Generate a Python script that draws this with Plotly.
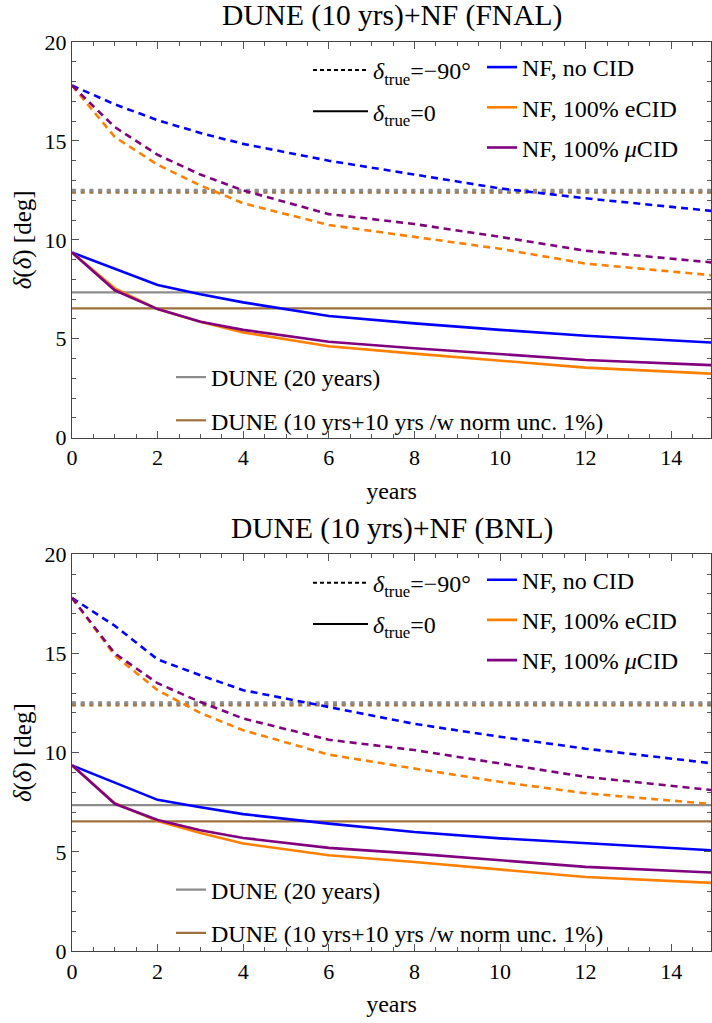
import plotly.graph_objects as go

# ---------------- data ----------------
years = [0, 1, 2, 3, 4, 6, 8, 10, 12, 15]

# FNAL panel (top)
fnal_nocid_m90 = [17.8, 16.85, 16.05, 15.4, 14.85, 14.0, 13.3, 12.6, 12.1, 11.45]
fnal_ecid_m90 = [17.8, 15.2, 13.8, 12.75, 11.85, 10.75, 10.15, 9.55, 8.8, 8.2]
fnal_mucid_m90 = [17.8, 15.7, 14.3, 13.3, 12.5, 11.3, 10.8, 10.15, 9.45, 8.85]
fnal_nocid_0 = [9.36, 8.55, 7.72, 7.25, 6.84, 6.15, 5.78, 5.45, 5.15, 4.8]
fnal_ecid_0 = [9.36, 7.55, 6.5, 5.86, 5.32, 4.62, 4.25, 3.9, 3.54, 3.23]
fnal_mucid_0 = [9.36, 7.45, 6.5, 5.86, 5.45, 4.85, 4.52, 4.23, 3.93, 3.66]

# BNL panel (bottom)
bnl_nocid_m90 = [17.8, 16.4, 14.7, 13.9, 13.15, 12.3, 11.45, 10.8, 10.2, 9.45]
bnl_ecid_m90 = [17.8, 14.9, 13.15, 12.0, 11.13, 9.9, 9.2, 8.53, 7.95, 7.4]
bnl_mucid_m90 = [17.8, 15.0, 13.5, 12.55, 11.72, 10.65, 10.13, 9.45, 8.78, 8.1]
bnl_nocid_0 = [9.36, 8.5, 7.62, 7.25, 6.9, 6.42, 6.0, 5.68, 5.42, 5.07]
bnl_ecid_0 = [9.36, 7.45, 6.55, 5.95, 5.42, 4.83, 4.49, 4.1, 3.73, 3.43]
bnl_mucid_0 = [9.36, 7.42, 6.6, 6.09, 5.7, 5.2, 4.91, 4.58, 4.24, 3.95]

# DUNE-only reference levels [delta=-90, delta=0]
dune20_levels = [12.5, 7.35]
dune_norm_levels = [12.42, 6.54]

panel_titles = ["DUNE (10 yrs)+NF (FNAL)", "DUNE (10 yrs)+NF (BNL)"]
nf_names = ["NF, no CID", "NF, 100% eCID", "NF, 100% <i>μ</i>CID"]
delta_names = ["<i>δ</i><sub>true</sub>=−90°", "<i>δ</i><sub>true</sub>=0"]
dune_names = ["DUNE (20 years)", "DUNE (10 yrs+10 yrs /w norm unc. 1%)"]

# ---------------- styles ----------------
BLUE, ORANGE, PURPLE = "#0000ff", "#ff8000", "#800080"
GRAY, BROWN = "#8c8c8c", "#a0703c"
FONT = "Liberation Serif"
nf_colors = [BLUE, ORANGE, PURPLE]
DASH = "7px,5px"
DOT = "4px,4.7px"

W, H = 712, 1023
L, R, T, B = 72, 1, 42, 72
ph = H - T - B


def py2paper(py):
    return (H - B - py) / ph


def px2paper(px):
    return (px - L) / (W - L - R)


fig = go.Figure()

panels = [
    ([fnal_nocid_m90, fnal_ecid_m90, fnal_mucid_m90],
     [fnal_nocid_0, fnal_ecid_0, fnal_mucid_0]),
    ([bnl_nocid_m90, bnl_ecid_m90, bnl_mucid_m90],
     [bnl_nocid_0, bnl_ecid_0, bnl_mucid_0]),
]

for p, (m90s, zeros) in enumerate(panels):
    xa = "x" if p == 0 else "x2"
    ya = "y" if p == 0 else "y2"
    lgA = "legend" if p == 0 else "legend4"
    lgB = "legend2" if p == 0 else "legend5"
    lgC = "legend3" if p == 0 else "legend6"
    xr = [years[0], years[-1]]
    # DUNE reference levels (delta=-90: dotted gray over dotted brown)
    fig.add_trace(go.Scatter(x=xr, y=[dune_norm_levels[0]] * 2, mode="lines",
                             line=dict(color=BROWN, width=3.5, dash=DOT),
                             xaxis=xa, yaxis=ya, showlegend=False, hoverinfo="skip"))
    fig.add_trace(go.Scatter(x=xr, y=[dune20_levels[0]] * 2, mode="lines",
                             line=dict(color=GRAY, width=3.5, dash=DOT),
                             xaxis=xa, yaxis=ya, showlegend=False, hoverinfo="skip"))
    fig.add_trace(go.Scatter(x=xr, y=[dune20_levels[1]] * 2, mode="lines",
                             line=dict(color=GRAY, width=2.2), name=dune_names[0],
                             xaxis=xa, yaxis=ya, legend=lgC, legendgroup=f"d0{p}"))
    fig.add_trace(go.Scatter(x=xr, y=[dune_norm_levels[1]] * 2, mode="lines",
                             line=dict(color=BROWN, width=2.2), name=dune_names[1],
                             xaxis=xa, yaxis=ya, legend=lgC, legendgroup=f"d1{p}"))
    # NF curves
    for i in range(3):
        fig.add_trace(go.Scatter(x=years, y=m90s[i], mode="lines",
                                 line=dict(color=nf_colors[i], width=2.6, dash=DASH),
                                 xaxis=xa, yaxis=ya, showlegend=False))
    for i in range(3):
        fig.add_trace(go.Scatter(x=years, y=zeros[i], mode="lines",
                                 line=dict(color=nf_colors[i], width=2.6),
                                 xaxis=xa, yaxis=ya, name=nf_names[i],
                                 legend=lgB, legendgroup=f"n{i}{p}"))
    # delta_true legend keys
    fig.add_trace(go.Scatter(x=[None], y=[None], mode="lines",
                             line=dict(color="black", width=2, dash="4px,3px"),
                             name=delta_names[0], xaxis=xa, yaxis=ya,
                             legend=lgA, legendgroup=f"a0{p}"))
    fig.add_trace(go.Scatter(x=[None], y=[None], mode="lines",
                             line=dict(color="black", width=2),
                             name=delta_names[1], xaxis=xa, yaxis=ya,
                             legend=lgA, legendgroup=f"a1{p}"))

axis_common = dict(
    range=None, showline=True, linecolor="#444", linewidth=1.3, mirror="ticks",
    ticks="inside", ticklen=7, tickwidth=1.2, tickcolor="#555",
    showgrid=False, zeroline=False,
    tickfont=dict(family=FONT, size=22, color="black"),
)

xaxis = dict(axis_common, range=[0, 14.93], dtick=2, tick0=0,
             minor=dict(dtick=0.5, ticks="inside", ticklen=4, tickcolor="#555"),
             title=dict(text="years", font=dict(family=FONT, size=24, color="black"),
                        standoff=12))
yaxis = dict(axis_common, range=[0, 20], dtick=5, tick0=0,
             minor=dict(dtick=1, ticks="inside", ticklen=4, tickcolor="#555"),
             title=dict(text="<i>δ</i>(<i>δ</i>) [deg]",
                        font=dict(family=FONT, size=25, color="black"), standoff=5))

top_dom = [py2paper(437.7), 1.0]
bot_dom = [0.0, py2paper(554.3)]

legend_common = dict(bgcolor="rgba(0,0,0,0)", borderwidth=0,
                     font=dict(family=FONT, size=24, color="black"),
                     xanchor="left", yanchor="top", tracegroupgap=5,
                     traceorder="grouped", itemwidth=30)

layouts = {}
for p, off in enumerate([0, 554.3 - 41.7]):
    names = ["legend", "legend2", "legend3"] if p == 0 else ["legend4", "legend5", "legend6"]
    layouts[names[0]] = dict(legend_common, x=px2paper(308), y=py2paper(48 + off),
                             itemwidth=55, tracegroupgap=7)
    layouts[names[1]] = dict(legend_common, x=px2paper(482), y=py2paper(45 + off),
                             tracegroupgap=6)
    layouts[names[2]] = dict(legend_common, x=px2paper(171), y=py2paper(355 + off),
                             tracegroupgap=9)

annotations = []
for p, pyc in enumerate([15.5, 528]):
    annotations.append(dict(text=panel_titles[p], xref="paper", yref="paper",
                            x=0.5, y=py2paper(pyc), xanchor="center", yanchor="middle",
                            showarrow=False, font=dict(family=FONT, size=29.5, color="black")))

fig.update_layout(
    width=W, height=H,
    margin=dict(l=L, r=R, t=T, b=B),
    paper_bgcolor="white", plot_bgcolor="white",
    showlegend=True,
    xaxis=dict(xaxis, anchor="y"),
    yaxis=dict(yaxis, domain=top_dom, anchor="x"),
    xaxis2=dict(xaxis, anchor="y2"),
    yaxis2=dict(yaxis, domain=bot_dom, anchor="x2"),
    annotations=annotations,
    **layouts,
)

fig.write_html("out.html",
               config={"displayModeBar": False},
               post_script="document.body.style.margin='0px';"
                           "document.body.style.overflow='hidden';")
